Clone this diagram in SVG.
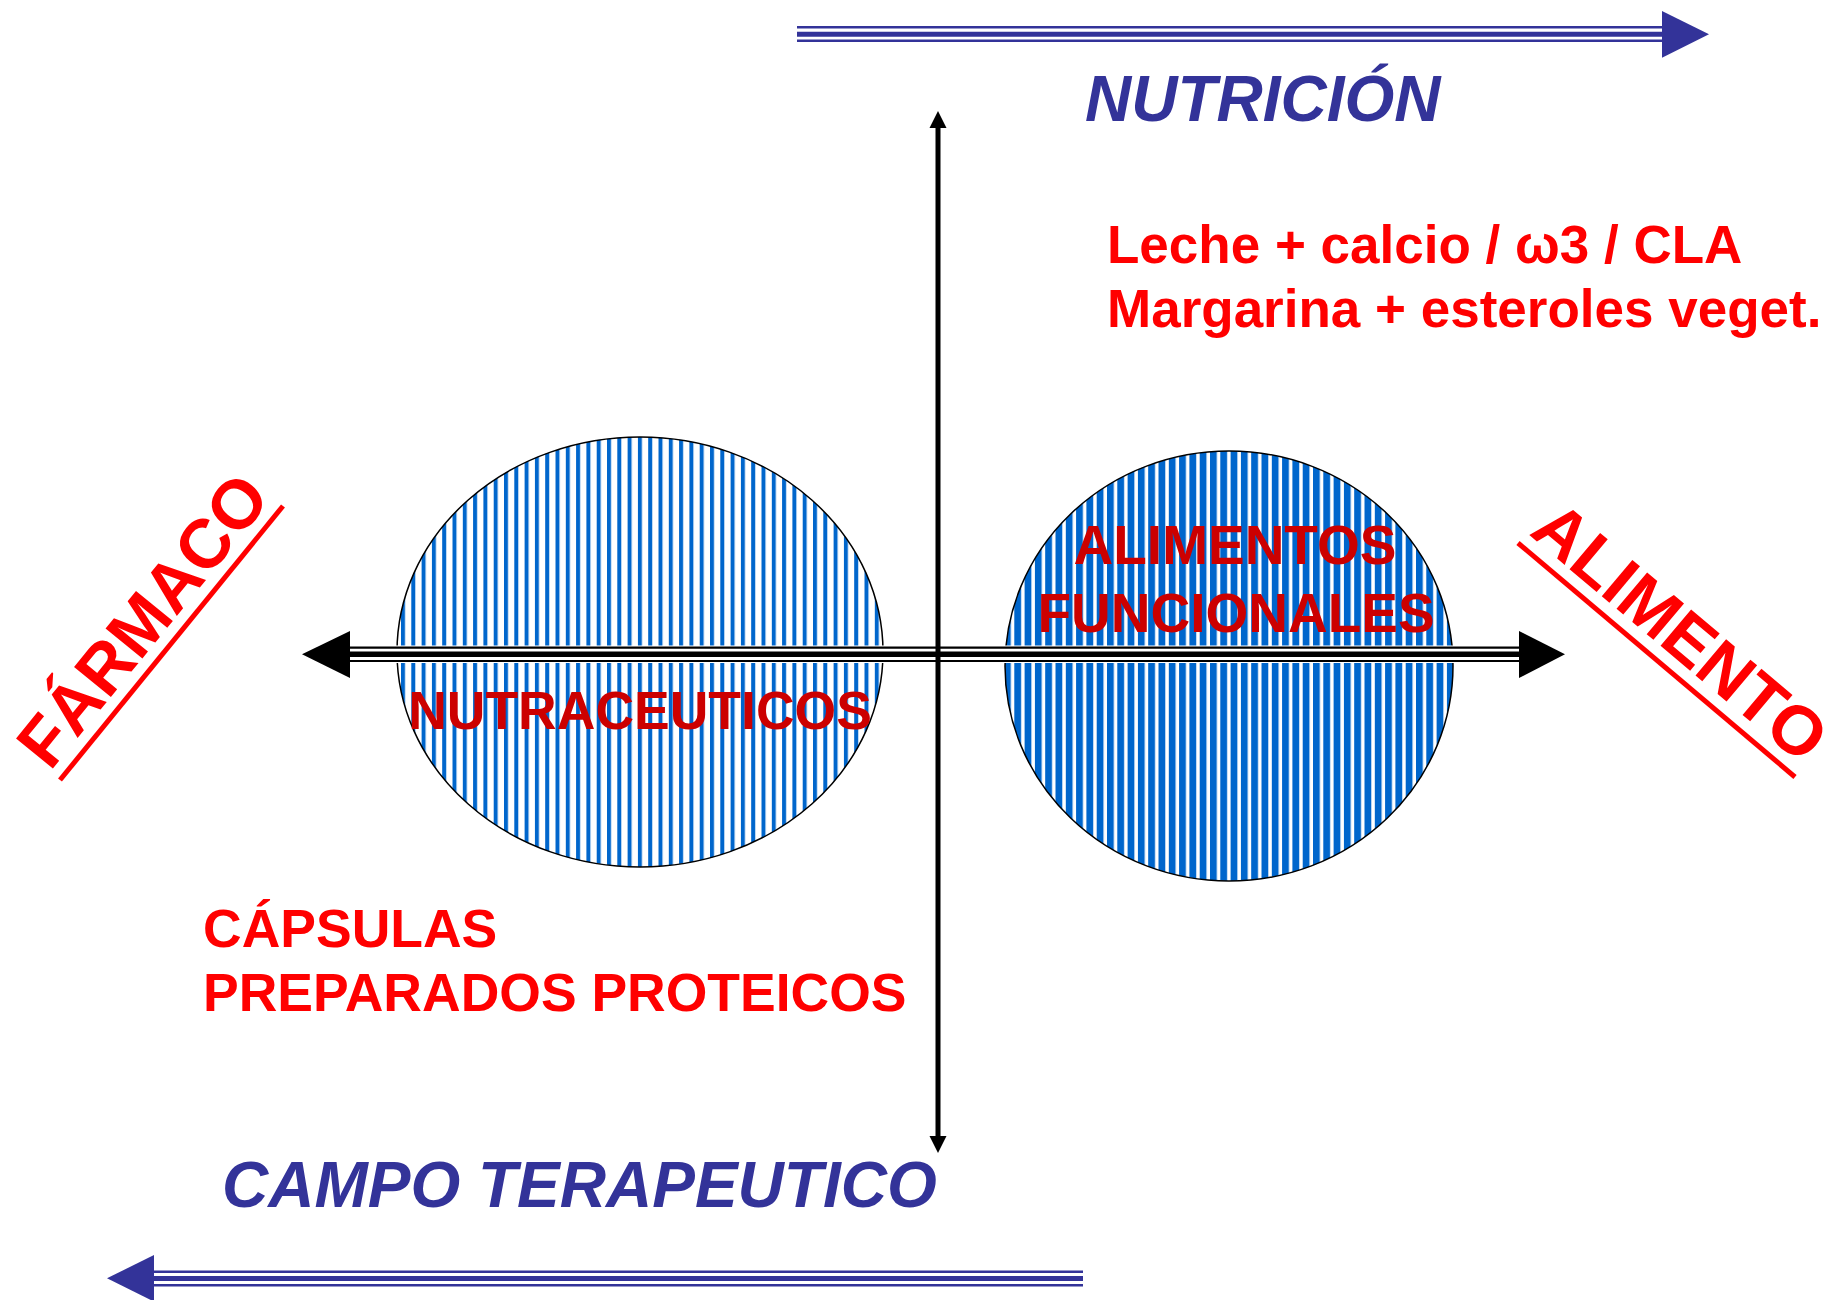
<svg xmlns="http://www.w3.org/2000/svg" width="1839" height="1300" viewBox="0 0 1839 1300">
<style>
text{font-family:"Liberation Sans",Arial,Helvetica,sans-serif;font-weight:bold}
.blue{fill:#333399;font-style:italic;font-size:64px}
.red{fill:#ff0000;font-size:53px}
.red2{fill:#ff0000;font-size:53.5px}
.dred{fill:#cc0000;text-anchor:middle}
.big{fill:#ff0000;font-size:69px}
.ul{stroke:#ff0000;stroke-width:5}
.bl{stroke:#333399;fill:none}
.bk{stroke:#000;fill:none}
.ell{stroke:#000;stroke-width:1.5}
</style>
<defs>
<pattern id="stripesL" patternUnits="userSpaceOnUse" x="401" y="0" width="10.3" height="20">
<rect x="0" y="0" width="10.3" height="20" fill="#fff"/>
<rect x="0" y="0" width="4" height="20" fill="#0066cc"/>
</pattern>
<pattern id="stripesR" patternUnits="userSpaceOnUse" x="1004" y="0" width="10.3" height="20">
<rect x="0" y="0" width="10.3" height="20" fill="#fff"/>
<rect x="0" y="0" width="6.8" height="20" fill="#0066cc"/>
</pattern>
</defs>
<rect width="1839" height="1300" fill="#fff"/>

<g id="nutraceuticos">
<ellipse class="ell" cx="640" cy="652" rx="243" ry="215" fill="url(#stripesL)"/>
</g>
<g id="alimentos-funcionales">
<ellipse class="ell" cx="1229" cy="666" rx="224" ry="215" fill="url(#stripesR)"/>
</g>

<g id="connectors">
<g id="arrow-nutricion">
<rect x="797" y="25" width="866" height="18" fill="#fff"/>
<line class="bl" x1="797" y1="27.3" x2="1663" y2="27.3" stroke-width="2.5"/>
<line class="bl" x1="797" y1="34.2" x2="1663" y2="34.2" stroke-width="5"/>
<line class="bl" x1="797" y1="40.8" x2="1663" y2="40.8" stroke-width="2.5"/>
<polygon points="1662,11 1709,34.3 1662,57.7" fill="#333399"/>
</g>
<g id="arrow-terapeutico">
<rect x="153" y="1269" width="930" height="19" fill="#fff"/>
<line class="bl" x1="153" y1="1271.7" x2="1083" y2="1271.7" stroke-width="2.5"/>
<line class="bl" x1="153" y1="1278.5" x2="1083" y2="1278.5" stroke-width="5"/>
<line class="bl" x1="153" y1="1285.3" x2="1083" y2="1285.3" stroke-width="2.5"/>
<polygon points="154,1255 107,1278.3 154,1301.6" fill="#333399"/>
</g>
<g id="axis-horizontal">
<rect x="349" y="645.5" width="1171" height="17.5" fill="#fff"/>
<line class="bk" x1="349" y1="647.7" x2="1520" y2="647.7" stroke-width="2.2"/>
<line class="bk" x1="349" y1="654.2" x2="1520" y2="654.2" stroke-width="5.5"/>
<line class="bk" x1="349" y1="661" x2="1520" y2="661" stroke-width="2.2"/>
<polygon points="350,631 302,654.2 350,678" fill="#000"/>
<polygon points="1519,631 1565,654.2 1519,678" fill="#000"/>
</g>
<g id="axis-vertical">
<line class="bk" x1="938" y1="124" x2="938" y2="1140" stroke-width="5"/>
<polygon points="938,111 946.5,128 929.5,128" fill="#000"/>
<polygon points="938,1153 946.5,1136 929.5,1136" fill="#000"/>
</g>
</g>

<g id="label-nutraceuticos">
<text class="dred" x="640" y="729" font-size="53.5">NUTRACEUTICOS</text>
</g>
<g id="label-alimentos-funcionales">
<text class="dred" x="1235" y="564" font-size="55">ALIMENTOS</text>
<text class="dred" x="1236" y="632" font-size="55">FUNCIONALES</text>
</g>

<g id="nutricion">
<text class="blue" x="1085" y="121">NUTRICIÓN</text>
</g>
<g id="campo-terapeutico">
<text class="blue" x="222" y="1207">CAMPO TERAPEUTICO</text>
</g>
<g id="ejemplos-alimento">
<text class="red" x="1107" y="263">Leche + calcio / ω3 / CLA</text>
<text class="red" x="1107" y="327">Margarina + esteroles veget.</text>
</g>
<g id="ejemplos-farmaco">
<text class="red2" x="203" y="947">CÁPSULAS</text>
<text class="red2" x="203" y="1011">PREPARADOS PROTEICOS</text>
</g>
<g id="farmaco">
<text class="big" transform="translate(50,772) rotate(-50.9)">FÁRMACO</text>
<line class="ul" x1="60" y1="780" x2="283" y2="506"/>
</g>
<g id="alimento">
<text class="big" transform="translate(1528,534) rotate(40.15)">ALIMENTO</text>
<line class="ul" x1="1518" y1="543" x2="1795" y2="777"/>
</g>
</svg>
